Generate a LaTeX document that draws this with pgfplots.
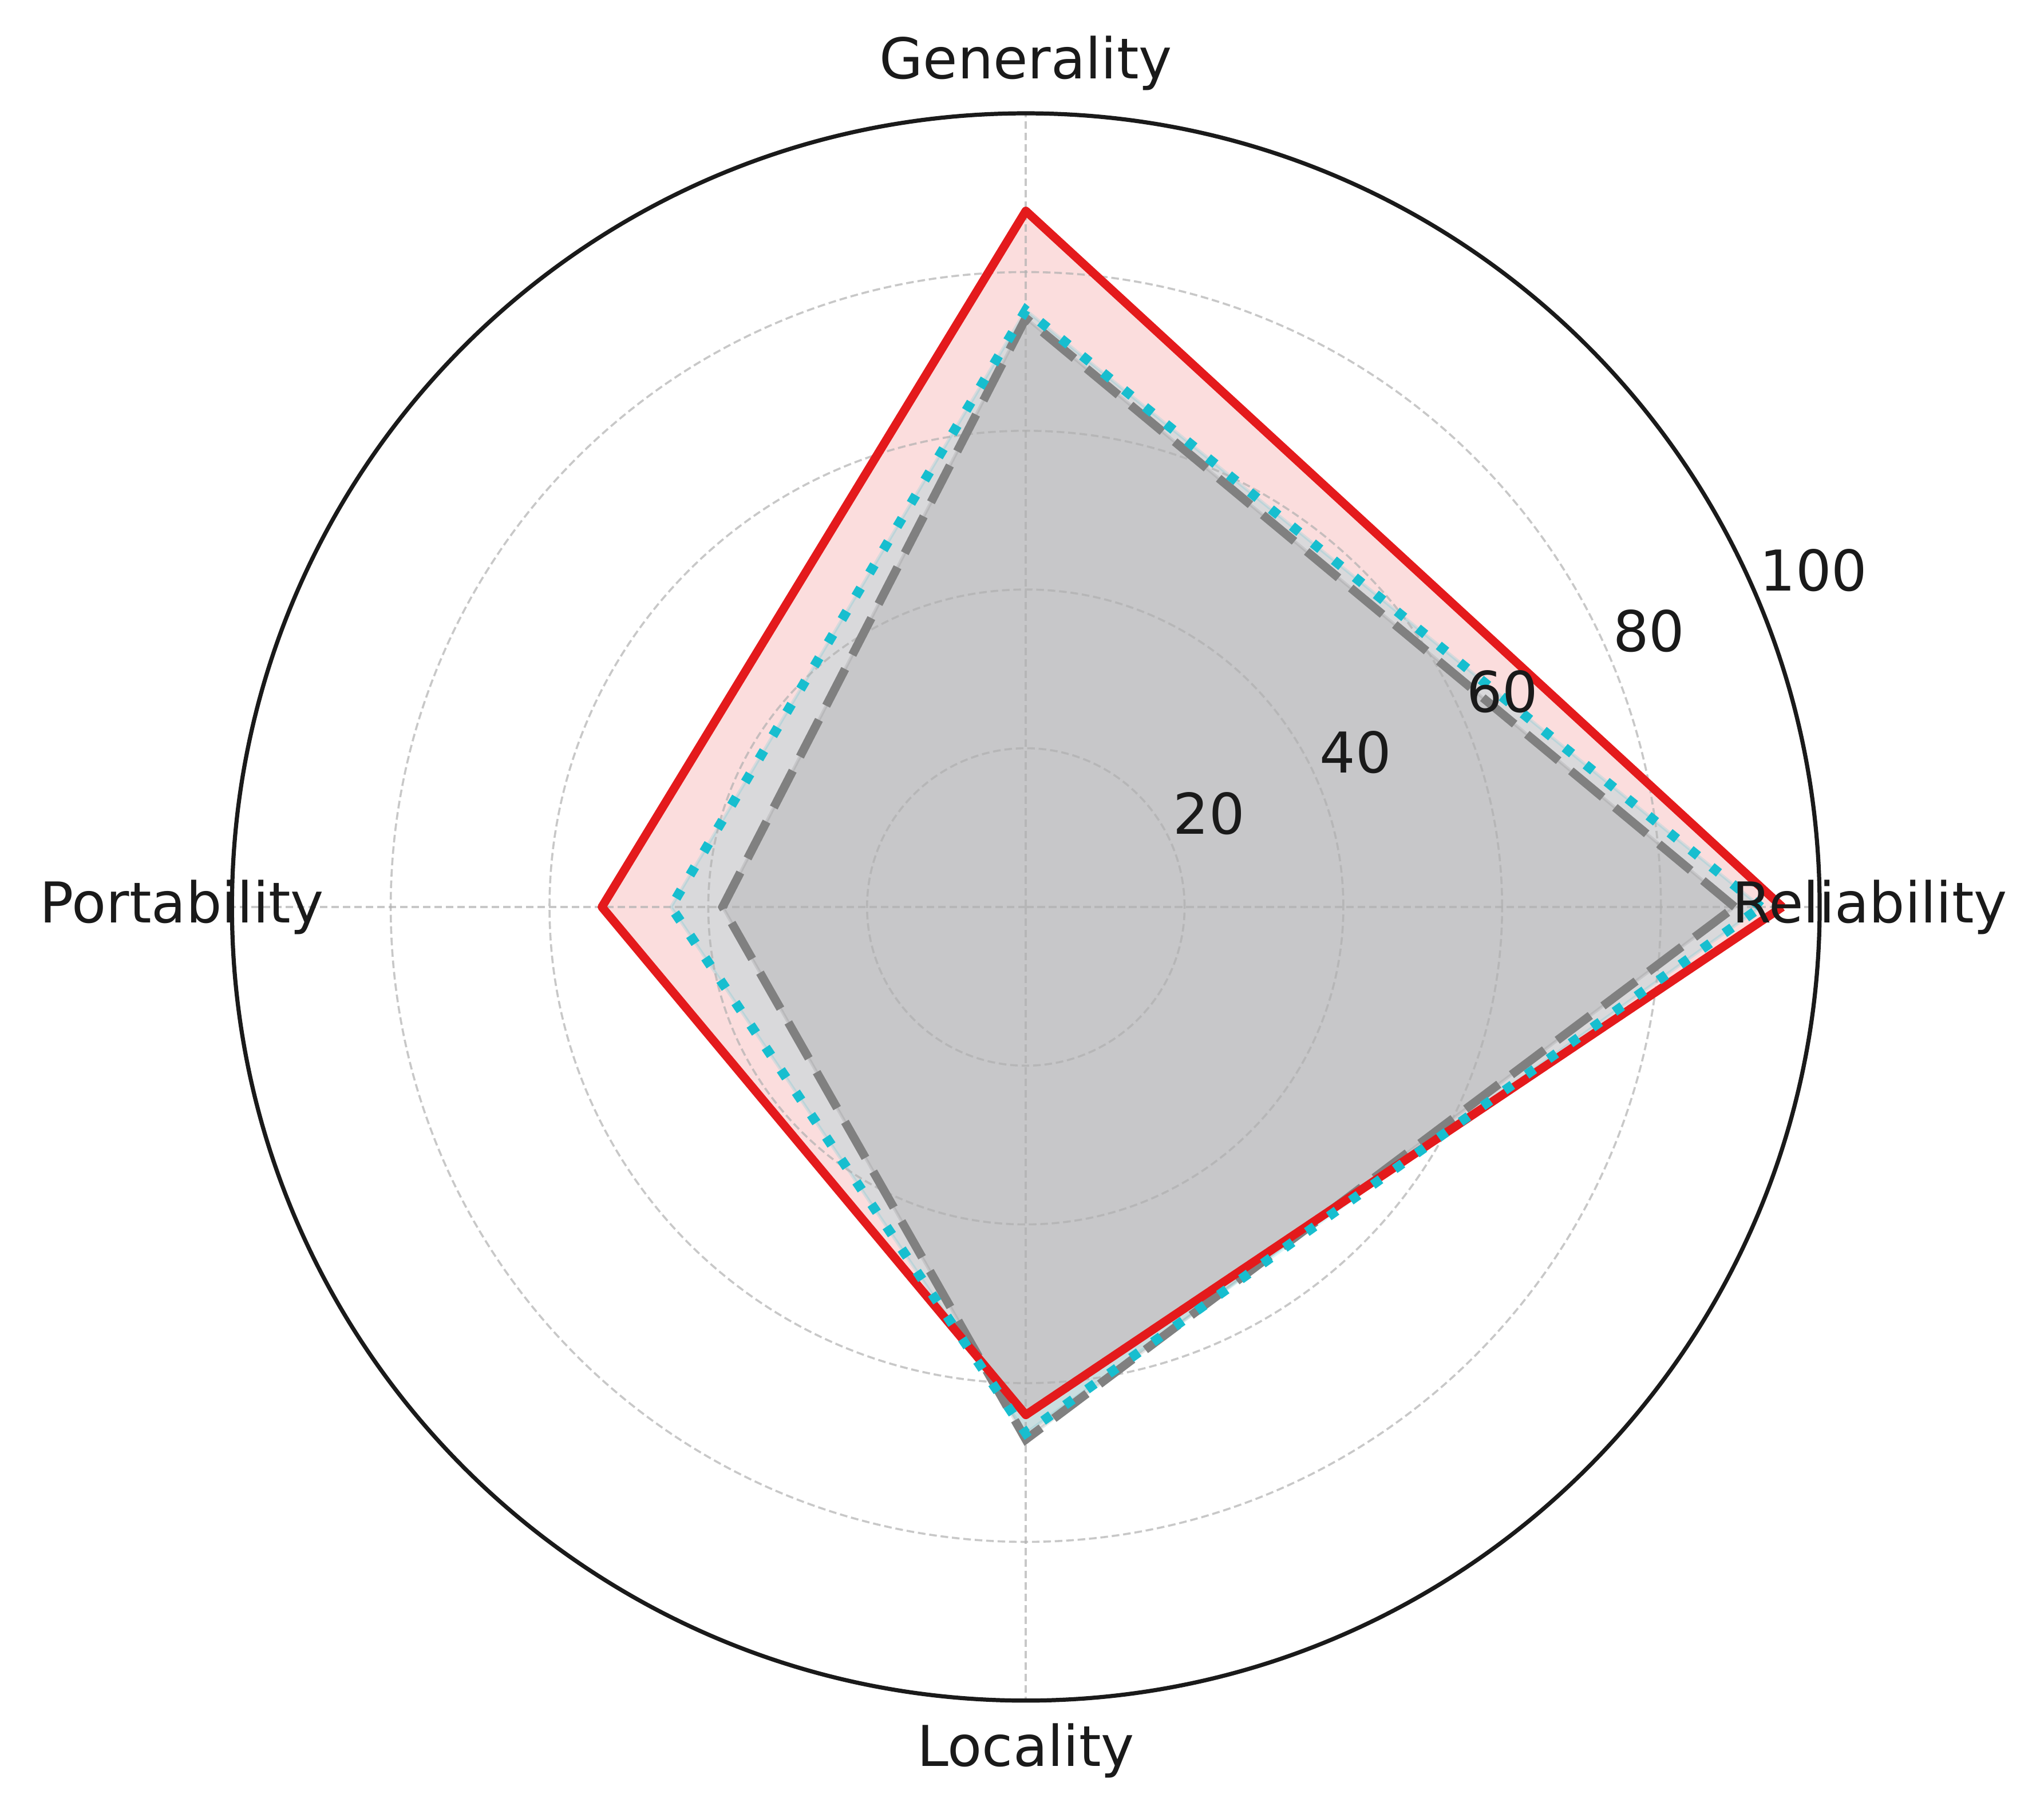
\documentclass[border=0pt]{standalone}
\usepackage{pgfplots}
\pgfplotsset{compat=1.18}
\usepgfplotslibrary{polar}
\usepackage{fontspec}
\setmainfont{DejaVu Sans}

\definecolor{txt}{HTML}{1A1A1A}
\definecolor{cRed}{HTML}{E41A1C}
\definecolor{cGray}{HTML}{808080}
\definecolor{cCyan}{HTML}{17BECF}
\definecolor{gridc}{HTML}{B0B0B0}

\tikzset{lbl/.style={text=txt, font=\fontsize{17.7}{21}\selectfont}}

\begin{document}
\begin{tikzpicture}
\begin{polaraxis}[
    set layers,
    clip=false,
    scale only axis,
    width=499.3pt, height=499.3pt,
    xmin=0, xmax=360,
    ymin=0, ymax=100,
    xtick={0,90,180,270},
    ytick={20,40,60,80},
    xticklabels={}, yticklabels={},
    major tick length=0pt,
    grid=major,
    grid style={draw=gridc, draw opacity=0.7, line width=0.65pt, dash pattern=on 2.4pt off 1.2pt},
    separate axis lines,
    x axis line style={draw=txt, line width=1.3pt},
    y axis line style={draw=none},
]
% fills (below the grid)
\addplot[on layer=axis background, fill=cRed, fill opacity=0.15, draw=cRed, draw opacity=0.15, line width=1pt]
    coordinates {(0,95.3) (90,87.7) (180,53.4) (270,64.0) (360,95.3)};
\addplot[on layer=axis background, fill=cCyan, fill opacity=0.15, draw=cCyan, draw opacity=0.15, line width=1pt]
    coordinates {(0,92.6) (90,75.2) (180,44.7) (270,66.3) (360,92.6)};
\addplot[on layer=axis background, fill=cGray, fill opacity=0.2, draw=cGray, draw opacity=0.2, line width=1pt]
    coordinates {(0,89.3) (90,74.2) (180,38.2) (270,67.1) (360,89.3)};

% outlines
\addplot[draw=cGray, line width=2.7pt, dash pattern=on 13pt off 5pt]
    coordinates {(0,89.3) (90,74.2) (180,38.2) (270,67.1) (360,89.3)};
\addplot[draw=cRed, line width=2.7pt, line join=round]
    coordinates {(0,95.3) (90,87.7) (180,53.4) (270,64.0) (360,95.3)};
\addplot[draw=cCyan, line width=3pt, dash pattern=on 3pt off 5.5pt]
    coordinates {(0,92.6) (90,75.2) (180,44.7) (270,66.3) (360,92.6)};

% category labels
\node[lbl, anchor=center] at (axis cs:0,106.3) {Reliability};
\node[lbl, anchor=center] at (axis cs:90,106.3) {Generality};
\node[lbl, anchor=center] at (axis cs:180,106.3) {Portability};
\node[lbl, anchor=center] at (axis cs:270,106.3) {Locality};

% radial labels
\node[lbl, anchor=base west, inner sep=0pt, yshift=3.9pt] at (axis cs:22.5,20) {20};
\node[lbl, anchor=base west, inner sep=0pt, yshift=3.9pt] at (axis cs:22.5,40) {40};
\node[lbl, anchor=base west, inner sep=0pt, yshift=3.9pt] at (axis cs:22.5,60) {60};
\node[lbl, anchor=base west, inner sep=0pt, yshift=3.9pt] at (axis cs:22.5,80) {80};
\node[lbl, anchor=base west, inner sep=0pt, yshift=3.9pt] at (axis cs:22.5,100) {100};

\coordinate (c) at (axis cs:0,0);
\end{polaraxis}
\path (c) ++(-322.6pt,-285.3pt) rectangle ++(642.8pt,570.6pt);
\end{tikzpicture}
\end{document}
